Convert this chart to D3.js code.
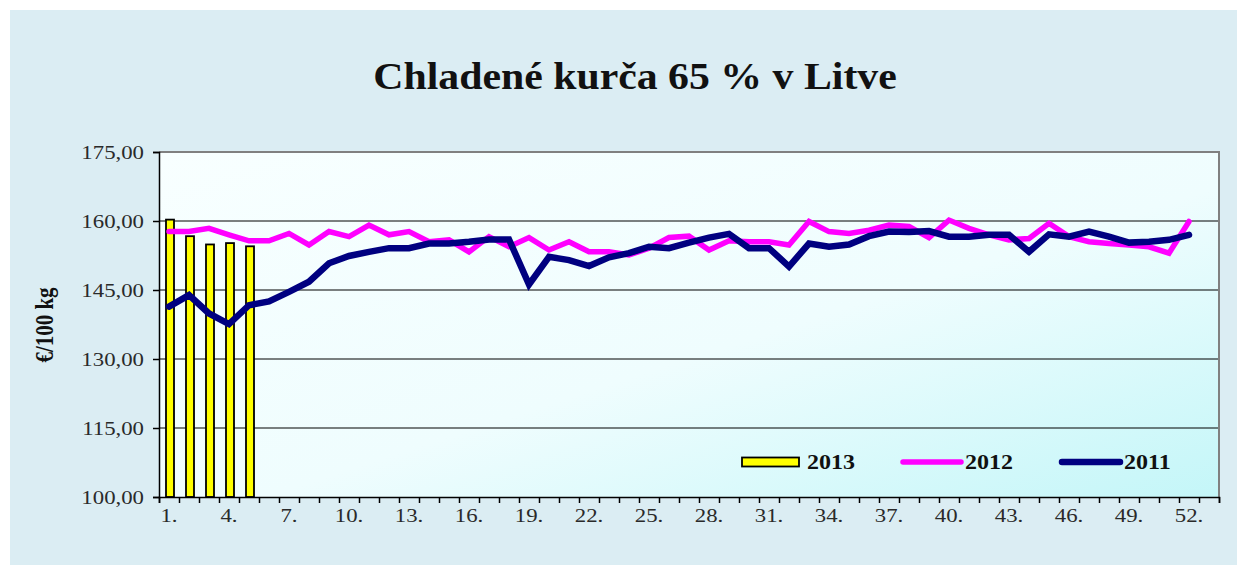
<!DOCTYPE html>
<html><head><meta charset="utf-8">
<script src="https://cdn.jsdelivr.net/npm/d3@7"></script>
<style>html,body{margin:0;padding:0;background:#fff;}svg{display:block;}</style>
</head><body>
<svg id="chart" width="1239" height="570"></svg>
<script>
const weeks = d3.range(1, 54); // 53 week slots
const tickLabelWeeks = [1,4,7,10,13,16,19,22,25,28,31,34,37,40,43,46,49,52];
const yTicks = [100,115,130,145,160,175];
const values2013 = [160.3,156.7,154.9,155.2,154.5];
const values2012 = [157.7,157.7,158.4,157.0,155.7,155.7,157.3,154.8,157.7,156.6,
  159.1,157.0,157.7,155.5,155.9,153.3,156.6,154.4,156.4,153.7,
  155.5,153.3,153.3,152.6,154.1,156.4,156.7,153.7,155.7,155.5,
  155.5,154.8,159.9,157.7,157.3,158.0,159.1,158.8,156.4,160.2,
  158.4,157.0,155.9,156.2,159.5,156.6,155.5,155.1,154.8,154.4,
  153.0,159.9];
const values2011 = [141.4,143.9,139.9,137.6,141.7,142.5,144.6,146.8,150.8,152.4,
  153.3,154.1,154.1,155.1,155.1,155.5,156.0,156.0,146.2,152.2,
  151.5,150.2,152.1,153.0,154.4,154.1,155.3,156.4,157.2,154.1,
  154.1,150.1,155.1,154.4,154.9,156.7,157.7,157.6,157.8,156.6,
  156.6,157.0,157.0,153.3,157.1,156.6,157.7,156.6,155.3,155.5,
  155.9,157.0];
const seriesNames = ["2013","2012","2011"];
const colors = {"2013":"#ffff00","2012":"#ff00ff","2011":"#000080"};

const svg = d3.select("#chart");
const SX = 1.2; // horizontal text stretch
const serif = "'Liberation Serif','Times New Roman',serif";

// outer background
svg.append("rect").attr("x",10).attr("y",10).attr("width",1227).attr("height",555).attr("fill","#dbedf3");

const L=159, R=1219, T=152, B=497;
const defs = svg.append("defs");
const grad = defs.append("linearGradient").attr("id","pg").attr("x1","0").attr("y1","0").attr("x2","1").attr("y2","1");
grad.append("stop").attr("offset","0").attr("stop-color","#f8ffff");
grad.append("stop").attr("offset","0.55").attr("stop-color","#effdfe");
grad.append("stop").attr("offset","1").attr("stop-color","#c4f6f8");
svg.append("rect").attr("x",L).attr("y",T).attr("width",R-L).attr("height",B-T).attr("fill","url(#pg)");

const x = d3.scaleBand().domain(weeks).range([L,R]).padding(0);
const xb = d3.scaleLinear().domain([0,53]).range([L,R]);
const y = d3.scaleLinear().domain([100,175]).range([B,T]);

// gridlines
svg.append("g").selectAll("line").data(yTicks.filter(v=>v>100 && v<175)).join("line")
  .attr("x1",L).attr("x2",R).attr("y1",d=>y(d)).attr("y2",d=>y(d))
  .attr("stroke","#000").attr("stroke-width",1);
// plot border top/right
svg.append("path").attr("d",`M${L},${T}H${R}V${B}`).attr("fill","none").attr("stroke","#808080").attr("stroke-width",2);

// bars 2013
const bw = x.bandwidth()*0.4;
svg.append("g").selectAll("rect").data(values2013).join("rect")
  .attr("x",(d,i)=>x(i+1)+x.bandwidth()/2-bw/2+1)
  .attr("y",d=>y(d)).attr("width",bw).attr("height",d=>B-y(d))
  .attr("fill",colors["2013"]).attr("stroke","#000").attr("stroke-width",1.8);

// lines
const line = d3.line().x((d,i)=>x(i+1)+x.bandwidth()/2).y(d=>y(d));
svg.append("path").datum(values2012).attr("d",line).attr("fill","none")
  .attr("stroke",colors["2012"]).attr("stroke-width",5.5).attr("stroke-linejoin","miter").attr("stroke-linecap","round");
svg.append("path").datum(values2011).attr("d",line).attr("fill","none")
  .attr("stroke",colors["2011"]).attr("stroke-width",6.5).attr("stroke-linejoin","miter").attr("stroke-linecap","round");

// y axis
const ya = svg.append("g").attr("transform",`translate(${L},0)`)
  .call(d3.axisLeft(y).tickValues(yTicks).tickSize(6).tickPadding(12)
    .tickFormat(d=>d3.format(".2f")(d).replace(".",",")));
ya.select(".domain").attr("stroke","#000").attr("stroke-width",1.5);
ya.selectAll(".tick line").attr("stroke","#000").attr("stroke-width",1.5);
ya.selectAll("text").attr("font-family",serif).attr("font-size",19).attr("fill","#2a2a2a")
  .attr("transform",`scale(${SX},1)`).attr("x",-15/SX);

// x axis boundary ticks
const xa = svg.append("g").attr("transform",`translate(0,${B})`)
  .call(d3.axisBottom(xb).tickValues(d3.range(0,54)).tickSize(6).tickFormat(""));
xa.select(".domain").attr("stroke","#000").attr("stroke-width",1.5);
xa.selectAll(".tick line").attr("stroke","#000").attr("stroke-width",1.5);
// x labels
const xl = svg.append("g").attr("transform",`translate(0,${B})`)
  .call(d3.axisBottom(x).tickValues(tickLabelWeeks).tickSize(0).tickPadding(12).tickFormat(d=>d+"."));
xl.select(".domain").remove();
xl.selectAll("text").attr("font-family",serif).attr("font-size",19).attr("fill","#2a2a2a")
  .attr("transform",`scale(${SX},1)`);

// y title
svg.append("text").attr("transform","translate(53,325) rotate(-90) scale(1,1.15)")
  .attr("text-anchor","middle").attr("font-family",serif).attr("font-weight","bold").attr("font-size",21)
  .attr("fill","#111").text("€/100 kg");

// title
svg.append("text").attr("transform",`translate(635,89) scale(1.1,1)`).attr("text-anchor","middle")
  .attr("font-family",serif).attr("font-weight","bold").attr("font-size",38).attr("fill","#111")
  .text("Chladené kurča 65 % v Litve");

// legend
const lg = svg.append("g");
const legendItems = [
  {name:"2013", x:742},
  {name:"2012", x:900},
  {name:"2011", x:1059}
];
const ly = 462;
legendItems.forEach(it=>{
  if(it.name==="2013"){
    lg.append("rect").attr("x",it.x).attr("y",ly-4.5).attr("width",57).attr("height",9)
      .attr("fill",colors["2013"]).attr("stroke","#000").attr("stroke-width",1.8);
  } else {
    lg.append("line").attr("x1",it.x+3).attr("x2",it.x+61).attr("y1",ly).attr("y2",ly)
      .attr("stroke",colors[it.name]).attr("stroke-width",it.name==="2011"?6.5:5.5).attr("stroke-linecap","round");
  }
  lg.append("text").attr("transform",`translate(${it.x+65},${ly+7}) scale(${SX},1)`)
    .attr("font-family",serif).attr("font-weight","bold").attr("font-size",20).attr("fill","#111").text(it.name);
});
</script>
</body></html>
